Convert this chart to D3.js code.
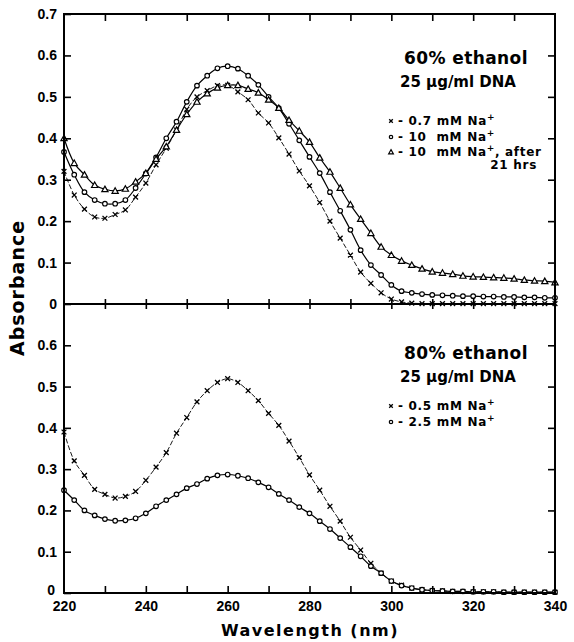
<!DOCTYPE html>
<html>
<head>
<meta charset="utf-8">
<script src="https://cdn.jsdelivr.net/npm/d3@7"></script>
<style>
  body { margin: 0; background: #fff; }
  svg { display: block; font-family: 'DejaVu Sans', sans-serif; }
  .tick text { font-weight: bold; font-size: 14px; fill: #000; }
  .tick line { stroke: #000; stroke-width: 1.6; }
</style>
</head>
<body>
<div id="chart"></div>
<script>
// wavelengths (nm) at which the points were read
const wavelengths = [
  220, 222.5, 225, 227.5, 230, 232.5, 235, 237.5, 240, 242.5,
  245, 247.5, 250, 252.5, 255, 257.5, 260, 262.5, 265, 267.5,
  270, 272.5, 275, 277.5, 280, 282.5, 285, 287.5, 290, 292.5,
  295, 297.5, 300, 302.5, 305, 307.5, 310, 312.5, 315, 317.5,
  320, 322.5, 325, 327.5, 330, 332.5, 335, 337.5, 340,
];

// 60% ethanol
const na07 = [
  0.320, 0.263, 0.229, 0.210, 0.207, 0.216, 0.227, 0.258, 0.292, 0.336,
  0.376, 0.420, 0.470, 0.500, 0.515, 0.527, 0.528, 0.512, 0.493, 0.461,
  0.437, 0.401, 0.362, 0.321, 0.285, 0.245, 0.200, 0.159, 0.118, 0.077,
  0.050, 0.027, 0.012, 0.005, 0.002, 0.001, 0.001, 0.001, 0.001, 0.001,
  0.001, 0.001, 0.001, 0.001, 0.001, 0.001, 0.001, 0.001, 0.001,
];
const na10 = [
  0.367, 0.312, 0.270, 0.251, 0.242, 0.242, 0.251, 0.280, 0.315, 0.354,
  0.400, 0.440, 0.488, 0.527, 0.551, 0.569, 0.574, 0.568, 0.551, 0.529,
  0.500, 0.473, 0.435, 0.395, 0.355, 0.316, 0.270, 0.225, 0.179, 0.130,
  0.094, 0.070, 0.046, 0.031, 0.027, 0.024, 0.022, 0.021, 0.020, 0.019,
  0.019, 0.018, 0.018, 0.017, 0.017, 0.016, 0.016, 0.015, 0.015,
];
const na10after = [
  0.400, 0.340, 0.312, 0.287, 0.277, 0.273, 0.278, 0.295, 0.316, 0.350,
  0.380, 0.420, 0.458, 0.488, 0.508, 0.522, 0.528, 0.528, 0.519, 0.510,
  0.493, 0.473, 0.444, 0.418, 0.391, 0.353, 0.319, 0.280, 0.240, 0.205,
  0.171, 0.138, 0.118, 0.104, 0.094, 0.085, 0.078, 0.075, 0.072, 0.068,
  0.066, 0.065, 0.064, 0.063, 0.061, 0.058, 0.056, 0.055, 0.052,
];

// 80% ethanol
const na05 = [
  0.390, 0.320, 0.285, 0.251, 0.239, 0.230, 0.234, 0.246, 0.273, 0.305,
  0.340, 0.387, 0.425, 0.463, 0.490, 0.510, 0.519, 0.510, 0.490, 0.466,
  0.435, 0.406, 0.368, 0.328, 0.286, 0.249, 0.210, 0.174, 0.135, 0.104,
  0.072, 0.048, 0.029, 0.019, 0.012, 0.008, 0.006, 0.005, 0.004, 0.004,
  0.003, 0.003, 0.003, 0.002, 0.002, 0.002, 0.002, 0.002, 0.002,
];
const na25 = [
  0.249, 0.225, 0.200, 0.188, 0.179, 0.175, 0.176, 0.181, 0.193, 0.210,
  0.225, 0.239, 0.254, 0.264, 0.277, 0.285, 0.287, 0.284, 0.278, 0.268,
  0.256, 0.240, 0.225, 0.208, 0.193, 0.174, 0.155, 0.133, 0.111, 0.089,
  0.065, 0.048, 0.029, 0.018, 0.012, 0.008, 0.006, 0.005, 0.004, 0.004,
  0.003, 0.003, 0.003, 0.002, 0.002, 0.002, 0.002, 0.002, 0.002,
];

const xTicks = [220, 230, 240, 250, 260, 270, 280, 290, 300, 310, 320, 330, 340];
const xLabels = [220, 240, 260, 280, 300, 320, 340];
const yTicks = [0, 0.1, 0.2, 0.3, 0.4, 0.5, 0.6, 0.7];

const panels = [
  {
    top: 14, bottom: 304,
    title: '60% ethanol', sub: '25 μg/ml DNA',
    titleY: 64, subY: 87,
    series: [
      { values: na07, marker: 'x', label: '- 0.7 mM Na', y: 125 },
      { values: na10, marker: 'o', label: '- 10  mM Na', y: 141 },
      { values: na10after, marker: 't', label: '- 10  mM Na', extra: ', after', y: 156 },
    ],
  },
  {
    top: 304, bottom: 593,
    title: '80% ethanol', sub: '25 μg/ml DNA',
    titleY: 359, subY: 382,
    series: [
      { values: na05, marker: 'x', label: '- 0.5 mM Na', y: 410 },
      { values: na25, marker: 'o', label: '- 2.5 mM Na', y: 426 },
    ],
  },
];

const width = 574;
const height = 642;
const left = 64;
const right = 555;

const svg = d3.select('#chart').append('svg')
  .attr('width', width)
  .attr('height', height);

const x = d3.scaleLinear().domain([220, 340]).range([left, right]);

function drawMarker(sel, type, size) {
  const s = size;
  if (type === 'x') {
    sel.append('path')
      .attr('d', `M${-s},${-s}L${s},${s}M${-s},${s}L${s},${-s}`)
      .attr('stroke', '#000').attr('stroke-width', 1.3).attr('fill', 'none');
  } else if (type === 'o') {
    sel.append('circle')
      .attr('r', s * 0.95)
      .attr('fill', '#fff').attr('stroke', '#000').attr('stroke-width', 1.2);
  } else {
    sel.append('path')
      .attr('d', `M0,${-s * 1.3}L${s * 1.3},${s}L${-s * 1.3},${s}Z`)
      .attr('fill', '#fff').attr('stroke', '#000').attr('stroke-width', 1.2);
  }
}

panels.forEach((p, i) => {
  const y = d3.scaleLinear().domain([0, 0.7]).range([p.bottom, p.top]);
  const g = svg.append('g');

  // curves
  p.series.forEach((s) => {
    const pts = wavelengths.map((w, k) => [w, s.values[k]]);
    const line = d3.line()
      .x(d => x(d[0]))
      .y(d => y(d[1]))
      .curve(d3.curveCatmullRom);
    g.append('path')
      .datum(pts)
      .attr('fill', 'none')
      .attr('stroke', '#000')
      .attr('stroke-width', s.marker === 'x' ? 0.9 : 1.2)
      .attr('stroke-dasharray', s.marker === 'x' ? '5,2' : null)
      .attr('d', line);
    g.append('g').selectAll('g')
      .data(pts)
      .join('g')
      .attr('transform', d => `translate(${x(d[0])},${y(d[1])})`)
      .each(function eachMarker() {
        drawMarker(d3.select(this), s.marker, 2.4);
      });
  });

  // left axis with labels
  const labelTicks = i === 0 ? yTicks : yTicks.slice(0, 7);
  const yAxis = d3.axisLeft(y)
    .tickValues(labelTicks)
    .tickSize(-7)
    .tickPadding(7)
    .tickFormat(d => (d === 0 ? '0' : d3.format('.1f')(d)));
  const ya = g.append('g').attr('transform', `translate(${left},0)`).call(yAxis);
  ya.select('.domain').remove();
  if (i === 1) {
    ya.selectAll('.tick text').filter(d => d === 0)
      .attr('dy', '0.1em').attr('x', -9);
  }

  // right axis ticks
  const ra = g.append('g').attr('transform', `translate(${right},0)`)
    .call(d3.axisRight(y).tickValues(yTicks.slice(1, 7)).tickSize(-7).tickFormat(''));
  ra.select('.domain').remove();

  // frame
  g.append('rect')
    .attr('x', left).attr('y', p.top)
    .attr('width', right - left).attr('height', p.bottom - p.top)
    .attr('fill', 'none').attr('stroke', '#000').attr('stroke-width', 2);

  // legend
  g.append('text')
    .attr('x', 466).attr('y', p.titleY)
    .attr('text-anchor', 'middle')
    .attr('font-size', 17).attr('font-weight', 'bold')
    .attr('letter-spacing', 0.4)
    .text(p.title);
  g.append('text')
    .attr('x', 458).attr('y', p.subY)
    .attr('text-anchor', 'middle')
    .attr('font-size', 15).attr('font-weight', 'bold')
    .text(p.sub);
  p.series.forEach((s) => {
    const mk = g.append('g').attr('transform', `translate(391,${s.y - 4})`);
    drawMarker(mk, s.marker, 1.8);
    const t = g.append('text')
      .attr('x', 398).attr('y', s.y)
      .attr('font-size', 12).attr('font-weight', 'bold')
      .attr('letter-spacing', 0.7)
      .style('white-space', 'pre');
    t.append('tspan').text(s.label);
    t.append('tspan').attr('dy', -5).attr('font-size', 9).text('+');
    if (s.extra) {
      t.append('tspan').attr('dy', 5).text(s.extra);
      g.append('text')
        .attr('x', 537).attr('y', s.y + 13)
        .attr('text-anchor', 'end')
        .attr('font-size', 12).attr('font-weight', 'bold')
        .attr('letter-spacing', 0.7)
        .text('21 hrs');
    }
  });
});

// x ticks: top of upper panel, both sides of the middle line, bottom axis with labels
const topAxis = svg.append('g').attr('transform', 'translate(0,14)')
  .call(d3.axisBottom(x).tickValues(xTicks.slice(1, -1)).tickSize(7).tickFormat(''));
topAxis.select('.domain').remove();

const midUp = svg.append('g').attr('transform', 'translate(0,304)')
  .call(d3.axisTop(x).tickValues(xTicks.slice(1, -1)).tickSize(5).tickFormat(''));
midUp.select('.domain').remove();
const midDown = svg.append('g').attr('transform', 'translate(0,304)')
  .call(d3.axisBottom(x).tickValues(xTicks.slice(1, -1)).tickSize(5).tickFormat(''));
midDown.select('.domain').remove();

const bottomAxis = svg.append('g').attr('transform', 'translate(0,593)')
  .call(d3.axisBottom(x).tickValues(xTicks).tickSize(-7).tickPadding(8)
    .tickFormat(d => (xLabels.includes(d) ? d : '')));
bottomAxis.select('.domain').remove();
bottomAxis.selectAll('.tick line').filter(d => d === 220 || d === 340).remove();

// axis titles
svg.append('text')
  .attr('transform', 'translate(24,288) rotate(-90)')
  .attr('text-anchor', 'middle')
  .attr('font-size', 19).attr('font-weight', 'bold')
  .attr('letter-spacing', 1)
  .text('Absorbance');

svg.append('text')
  .attr('x', 310).attr('y', 636)
  .attr('text-anchor', 'middle')
  .attr('font-size', 16).attr('font-weight', 'bold')
  .attr('letter-spacing', 1.5)
  .text('Wavelength (nm)');
</script>
</body>
</html>
